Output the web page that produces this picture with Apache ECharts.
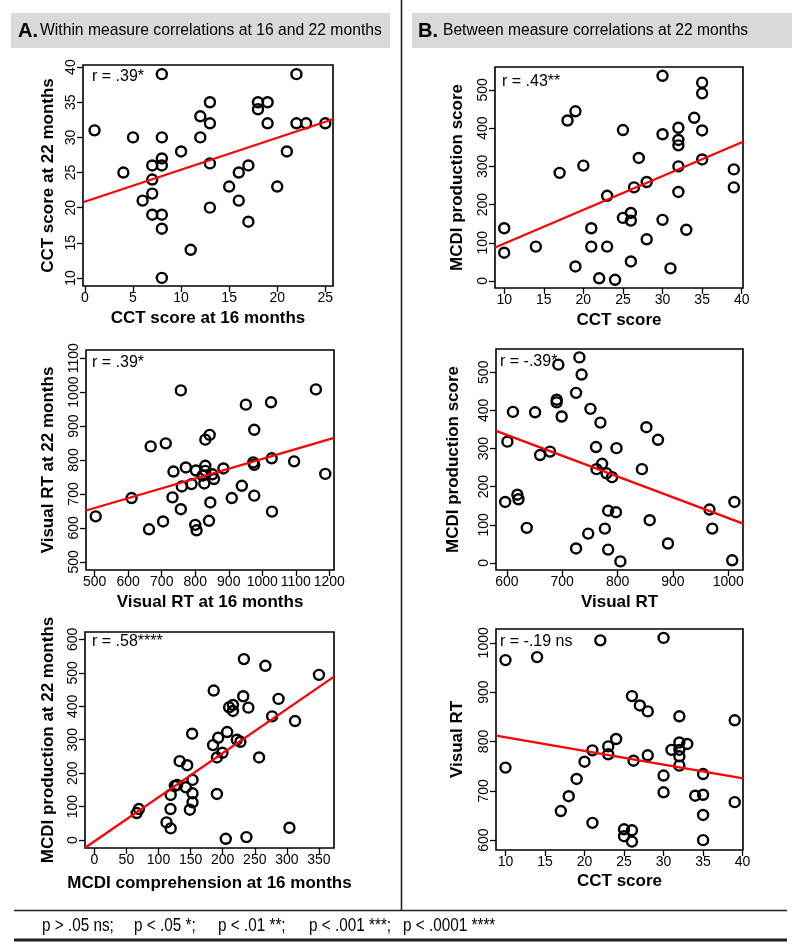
<!DOCTYPE html>
<html><head><meta charset="utf-8">
<script src="https://cdn.jsdelivr.net/npm/echarts@6/dist/echarts.min.js"></script>
<style>html,body{margin:0;padding:0;background:#fff}#c{width:800px;height:949px}</style>
</head><body><div id="c"></div>
<script>
// ---- Panel A1: CCT 16 vs 22 months
const a1X = [1,4,5,6,7,7,7,7,8,8,8,8,8,8,8,10,11,12,12,13,13,13,13,15,16,16,17,17,18,18,19,19,20,21,22,22,23,25];
const a1Y = [31,25,30,21,26,24,22,19,39,30,27,26,19,17,10,28,14,33,30,35,32,26.3,20,23,25,21,26,18,35,34,35,32,23,28,39,32,32,32];
const a1Fit = [20.85, 0.455];
const a1XTicks = [0,5,10,15,20,25];
const a1YTicks = [10,15,20,25,30,35,40];

// ---- Panel A2: Visual RT 16 vs 22 months
const a2X = [503,610,662,667,704,712,732,735,757,757,760,772,789,802,800,804,830,830,830,851,822,856,827,841,845,843,884,909,939,951,976,973,976,976,1026,1028,1029,1095,1160,1188];
const a2Y = [634,688,596,840,619,849,690,766,655,1005,722,778,729,769,609,593,860,783,768,758,754,744,731,621,675,874,775,688,724,963,889,793,786,695,970,805,648,796,1008,759];
const a2Fit = [514.4, 0.289];
const a2XTicks = [500,600,700,800,900,1000,1100,1200];
const a2YTicks = [500,600,700,800,900,1000,1100];

// ---- Panel A3: MCDI comprehension 16 vs production 22
const a3X = [66,69.5,112.5,119,118.7,119,129,125.5,133,144.7,142.6,153,153,153,148.8,152.4,191,185,193,207,199.6,191,222,227.6,256.7,204.8,237,210,216,216,240,277,186,232,233,266.5,287,312.7,350,304];
const a3Y = [81,93,53,35,93,135,165,162,236,224,158,180,140,113,91,318,138,284,306,323,261,247,300,294,247,4,9,397,404,386,396,370,447,430,541,521,422,356,494,37];
const a3Fit = [-3.6, 1.318];
const a3XTicks = [0,50,100,150,200,250,300,350];
const a3YTicks = [0,100,200,300,400,500,600];

// ---- Panel B1: CCT vs MCDI production
const b1X = [10,10,14,17,18,19,19,20,21,21,22,23,23,24,25,25,26,26,26,26.4,27,28,28,30,30,30,31,32,32,32,32,32,33,34,35,35,35,35,39,39];
const b1Y = [138,74,90,283,420,444,38,302,138,90,7,223,90,3,395,165,178,158,51,245,322,259,109,537,384,160,33,401,369,355,300,233,134,427,519,491,394,318,292,245];
const b1Fit = [9.6, 8.84];
const b1XTicks = [10,15,20,25,30,35,40];
const b1YTicks = [0,100,200,300,400,500];

// ---- Panel B2: Visual RT vs MCDI production
const b2X = [597,601,611,619,621,636,651,660,678,693,690,690,699,725,725,731,735,747,751,761,762,769,772,777,780,783,783,790,797,798,805,844,852,873,858,891,966,971,1011,1007];
const b2Y = [160,318,396,179,167,92,395,283,292,520,428,421,384,446,38,539,494,77,404,304,246,368,260,90,235,137,35,225,133,301,4,246,356,323,112,51,140,90,160,7];
const b2Fit = [662.6, -0.545];
const b2XTicks = [600,700,800,900,1000];
const b2YTicks = [0,100,200,300,400,500];

// ---- Panel B3: CCT vs Visual RT
const b3X = [10,10,14,17,18,19,20,21,21,22,23,23,24,25,25,26,26,26,26.2,27,28,28,30,30,30,31,32,32,32,32,32,33,34,35,35,35,35,39,39];
const b3Y = [965,747,971,659,689,724,759,782,635,1005,790,774,805,622,608,620,597,892,761,873,861,772,1010,731,697,783,851,798,783,770,751,795,690,734,692,651,600,843,677];
const b3Fit = [836.4, -2.774];
const b3XTicks = [10,15,20,25,30,35,40];
const b3YTicks = [600,700,800,900,1000];

const FONT = 'Liberation Sans, Arial, Helvetica, sans-serif';

const panels = [
  {x:a1X, y:a1Y, fit:a1Fit, xt:a1XTicks, yt:a1YTicks, xr:[-0.2,25.8], yr:[8.85,40.3], rect:[83,65,250,221],
   xn:'CCT score at 16 months', yn:'CCT score at 22 months', r:'r = .39*', rp:[92,77], xg:24, yg:26},
  {x:b1X, y:b1Y, fit:b1Fit, xt:b1XTicks, yt:b1YTicks, xr:[8.84,40.16], yr:[-18.4,560], rect:[495,67,248,221],
   xn:'CCT score', yn:'MCDI production score', r:'r = .43**', rp:[502,82], xg:24, yg:29},
  {x:a2X, y:a2Y, fit:a2Fit, xt:a2XTicks, yt:a2YTicks, xr:[474,1214], yr:[476,1124], rect:[86,350,248,220],
   xn:'Visual RT at 16 months', yn:'Visual RT at 22 months', r:'r = .39*', rp:[92,363], xg:24, yg:29},
  {x:b2X, y:b2Y, fit:b2Fit, xt:b2XTicks, yt:b2YTicks, xr:[580.4,1026.5], yr:[-18.5,561], rect:[496,349,247,221],
   xn:'Visual RT', yn:'MCDI production score', r:'r = -.39*', rp:[500,362], xg:24, yg:34},
  {x:a3X, y:a3Y, fit:a3Fit, xt:a3XTicks, yt:a3YTicks, xr:[-14.5,373.4], yr:[-23.5,622], rect:[85,632,249,216],
   xn:'MCDI comprehension at 16 months', yn:'MCDI production at 22 months', r:'r = .58****', rp:[92,642], xg:27, yg:28},
  {x:b3X, y:b3Y, fit:b3Fit, xt:b3XTicks, yt:b3YTicks, xr:[8.8,40.05], yr:[580,1028], rect:[496,629,247,221],
   xn:'CCT score', yn:'Visual RT', r:'r = -.19 ns', rp:[500,642], xg:23, yg:30}
];

const grid = [], xAxis = [], yAxis = [], series = [], graphic = [];
const axisCommon = (ticks) => ({
  type:'value', nameLocation:'middle',
  nameTextStyle:{fontFamily:FONT, fontSize:17, fontWeight:'bold', color:'#000'},
  axisLine:{show:false, onZero:false}, splitLine:{show:false},
  axisTick:{show:true, inside:false, length:6, lineStyle:{color:'#000', width:1.3}, customValues:ticks},
  axisLabel:{customValues:ticks, margin:5, fontSize:14, color:'#000', fontFamily:FONT, hideOverlap:false,
    formatter:(v)=>String(v)}
});

panels.forEach((p, i) => {
  grid.push({left:p.rect[0], top:p.rect[1], width:p.rect[2], height:p.rect[3], show:true,
    borderColor:'#000', borderWidth:1.6, backgroundColor:'transparent', containLabel:false, outerBoundsMode:'none'});
  xAxis.push(Object.assign(axisCommon(p.xt), {gridIndex:i, min:p.xr[0], max:p.xr[1], name:p.xn, nameGap:p.xg}));
  const ya = Object.assign(axisCommon(p.yt), {gridIndex:i, min:p.yr[0], max:p.yr[1], name:p.yn, nameGap:p.yg, nameRotate:90});
  ya.axisLabel.rotate = 90;
  yAxis.push(ya);
  series.push({type:'scatter', xAxisIndex:i, yAxisIndex:i, symbol:'circle', symbolSize:10,
    itemStyle:{color:'rgba(0,0,0,0)', borderColor:'#000', borderWidth:2.4, opacity:1},
    emphasis:{disabled:true}, silent:true, z:2,
    data:p.x.map((v,k)=>[v,p.y[k]])});
  series.push({type:'line', xAxisIndex:i, yAxisIndex:i, symbol:'none', silent:true, z:3, clip:true,
    lineStyle:{color:'#ff0000', width:2.2},
    data:[[p.xr[0], p.fit[0]+p.fit[1]*p.xr[0]],[p.xr[1], p.fit[0]+p.fit[1]*p.xr[1]]]});
  graphic.push({type:'text', x:p.rp[0], y:p.rp[1], z:10,
    style:{text:p.r, font:'16px '+FONT, fill:'#000', textVerticalAlign:'middle', textAlign:'left'}});
});

// headers
graphic.push({type:'rect', shape:{x:11,y:13,width:379,height:35}, style:{fill:'#d9d9d9'}, z:0});
graphic.push({type:'rect', shape:{x:412,y:13,width:380,height:35}, style:{fill:'#d9d9d9'}, z:0});
graphic.push({type:'text', x:18, y:31, z:10, style:{text:'A.', font:'bold 20px '+FONT, fill:'#000', textVerticalAlign:'middle'}});
graphic.push({type:'text', x:40, y:31, z:10, style:{text:'Within measure correlations at 16 and 22 months', font:'15.7px '+FONT, fill:'#000', textVerticalAlign:'middle'}});
graphic.push({type:'text', x:418, y:31, z:10, style:{text:'B.', font:'bold 20px '+FONT, fill:'#000', textVerticalAlign:'middle'}});
graphic.push({type:'text', x:443, y:31, z:10, style:{text:'Between measure correlations at 22 months', font:'15.6px '+FONT, fill:'#000', textVerticalAlign:'middle'}});
// divider and footer rules
graphic.push({type:'line', shape:{x1:401.5,y1:0,x2:401.5,y2:910}, style:{stroke:'#222', lineWidth:1.6}, z:5});
graphic.push({type:'line', shape:{x1:14,y1:910.5,x2:787,y2:910.5}, style:{stroke:'#222', lineWidth:1.6}, z:5});
graphic.push({type:'line', shape:{x1:14,y1:940,x2:787,y2:940}, style:{stroke:'#222', lineWidth:3}, z:5});
const foot = [[42,'p > .05 ns;'],[134,'p < .05 *;'],[218,'p < .01 **;'],[309,'p < .001 ***;'],[403,'p < .0001 ****']];
foot.forEach(f => graphic.push({type:'text', x:f[0], y:926, scaleX:0.85, z:10,
  style:{text:f[1], font:'18px '+FONT, fill:'#000', textVerticalAlign:'middle'}}));

const chart = echarts.init(document.getElementById('c'), null, {renderer:'canvas'});
chart.setOption({backgroundColor:'#fff', animation:false, grid, xAxis, yAxis, series, graphic});
</script></body></html>
